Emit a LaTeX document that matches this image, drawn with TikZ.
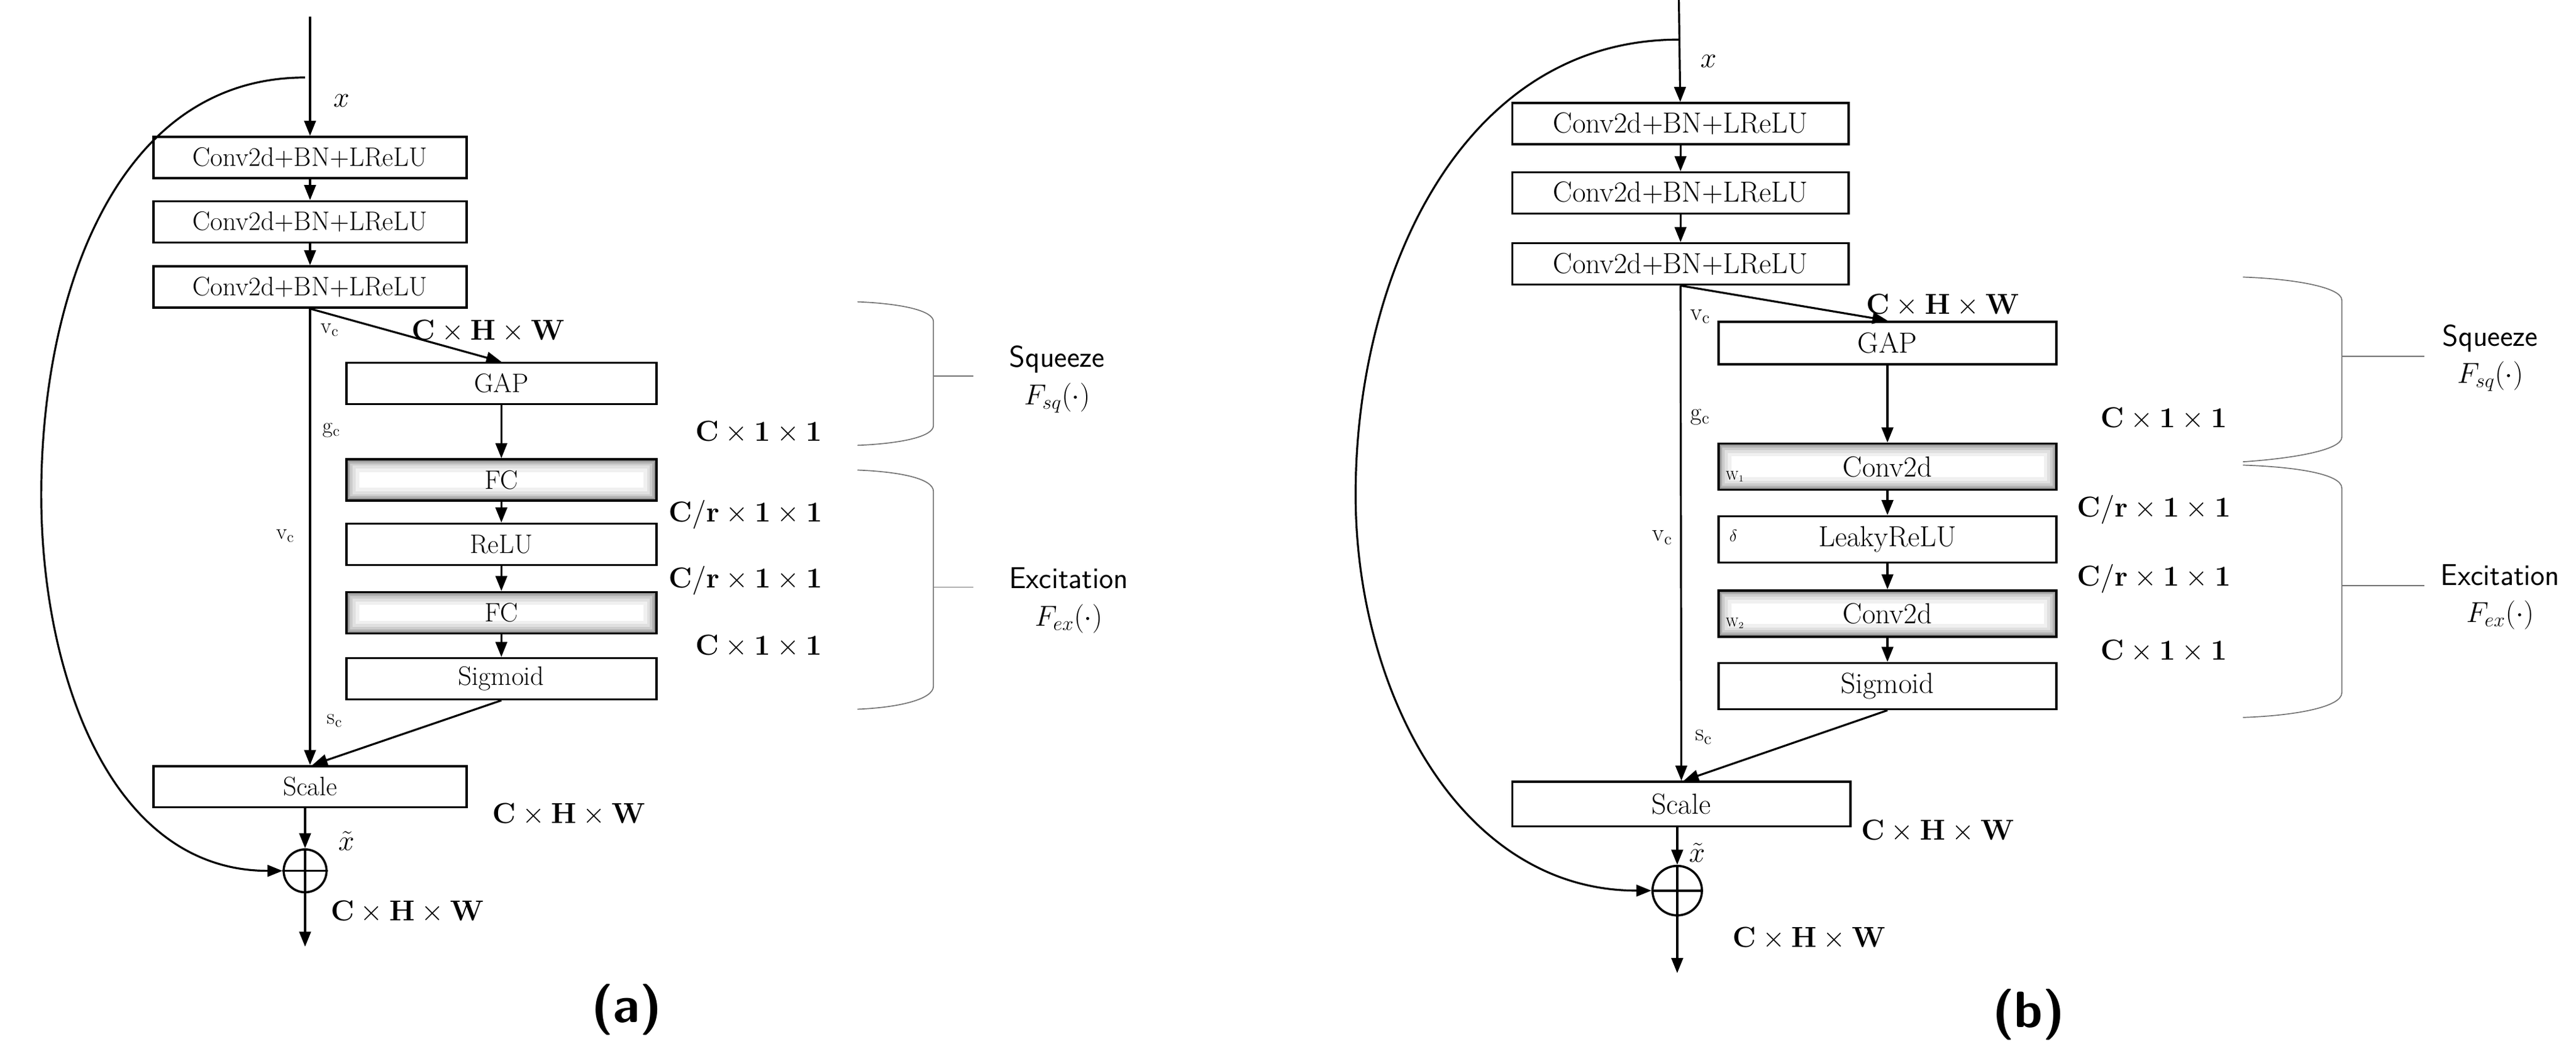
\documentclass[tikz,border=0pt]{standalone}
\usepackage{amsmath}
\usetikzlibrary{arrows.meta}
\begin{document}
\begin{tikzpicture}[x=0.05cm,y=-0.05cm,
  blk/.style={draw,line width=1.9pt,minimum height=1.25cm,inner sep=0pt,font=\fontsize{23}{25}\selectfont},
  blkb/.style={blk,font=\fontsize{25}{27}\selectfont},
  shdp/.style={path picture={\foreach \w/\c in {22/6,16/12,11/20,7/30,4/42}{\draw[line width=\w pt,black!\c] (path picture bounding box.south west) rectangle (path picture bounding box.north east);}}},
  arr/.style={line width=1.7pt,-{Triangle[length=13pt,width=10pt]}},
  dim/.style={font=\fontsize{23}{25}\selectfont},
  dimb/.style={font=\fontsize{25}{27}\selectfont},
  sm/.style={font=\fontsize{19}{21}\selectfont},
  smb/.style={font=\fontsize{21}{23}\selectfont},
  br/.style={draw=black!55,line width=0.9pt},
  lab/.style={font=\sffamily\fontsize{26}{30}\selectfont,align=center}]
\useasboundingbox (0,0) rectangle (1562,640);
% ---------- panel (a)
\coordinate (ain) at (188,10);
\node[blk,minimum width=9.5cm] (a1) at (188,95.5) {Conv2d+BN+LReLU};
\node[blk,minimum width=9.5cm] (a2) at (188,134.5) {Conv2d+BN+LReLU};
\node[blk,minimum width=9.5cm] (a3) at (188,174) {Conv2d+BN+LReLU};
\node[blk,minimum width=9.4cm] (agap) at (304,232.5) {GAP};
\node[blk,shdp,minimum width=9.4cm] (afc1) at (304,291) {FC};
\node[blk,minimum width=9.4cm] (arelu) at (304,330) {ReLU};
\node[blk,shdp,minimum width=9.4cm] (afc2) at (304,371.5) {FC};
\node[blk,minimum width=9.4cm] (asig) at (304,411.5) {Sigmoid};
\node[blk,minimum width=9.5cm] (asc) at (188,477) {Scale};
\node[circle,draw,line width=1.9pt,minimum size=1.3cm,inner sep=0pt] (aplus) at (185,528) {};
\draw[line width=1.9pt] (aplus.north)--(aplus.south) (aplus.west)--(aplus.east);
\coordinate (aout) at (185,574);
\draw[arr] (ain) -- (a1);
\draw[arr] (a1) -- (a2);
\draw[arr] (a2) -- (a3);
\draw[arr] (a3.south) -- (agap.north);
\draw[arr] (agap) -- (afc1);
\draw[arr] (afc1) -- (arelu);
\draw[arr] (arelu) -- (afc2);
\draw[arr] (afc2) -- (asig);
\draw[arr] (a3.south) -- (asc.north);
\draw[arr] (asig.south) -- ([xshift=2pt]asc.north);
\draw[arr] (asc.south -| aplus) -- (aplus.north);
\draw[arr] (aplus.south) -- (aout);
\coordinate (ask) at (185,47);
\draw[arr] (ask) to[out=180,in=90] (25,300) to[out=-90,in=180] (aplus.west);
\node at (207,61) {\fontsize{26}{28}\selectfont$x$};
\node[sm] at (200,200) {v$_\text{c}$};
\node[sm] at (201,261) {g$_\text{c}$};
\node[sm] at (173,325) {v$_\text{c}$};
\node[sm] at (203,437) {s$_\text{c}$};
\node at (210,510) {\fontsize{24}{26}\selectfont$\tilde{x}$};
\node[dim] at (296,201) {$\mathbf{C\times H\times W}$};
\node[dim] at (460,262) {$\mathbf{C\times 1\times 1}$};
\node[dim] at (452,312) {$\mathbf{C/r\times 1\times 1}$};
\node[dim] at (452,352) {$\mathbf{C/r\times 1\times 1}$};
\node[dim] at (460,392) {$\mathbf{C\times 1\times 1}$};
\node[dim] at (345,494) {$\mathbf{C\times H\times W}$};
\node[dim] at (247,553) {$\mathbf{C\times H\times W}$};
\draw[br] (520,183) .. controls (545,184) and (566,188) .. (566,195) -- (566,258) .. controls (566,265) and (545,269) .. (520,270);
\draw[br] (566,228) -- (590,228);
\draw[br] (520,285) .. controls (545,286) and (566,290) .. (566,298) -- (566,416) .. controls (566,424) and (545,429) .. (520,430);
\draw[br] (566,356) -- (590,356);
\node[lab] (asq) at (641,230) {Squeeze\\[2pt]$F_{sq}(\cdot)$};
\node[lab] (aex) at (648,364) {Excitation\\[2pt]$F_{ex}(\cdot)$};
\node at (380,612) {\fontsize{44}{46}\selectfont\sffamily\bfseries(a)};
% ---------- panel (b)
\coordinate (bin) at (1018,0);
\node[blkb,minimum width=10.2cm] (b1) at (1019,75) {Conv2d+BN+LReLU};
\node[blkb,minimum width=10.2cm] (b2) at (1019,117) {Conv2d+BN+LReLU};
\node[blkb,minimum width=10.2cm] (b3) at (1019,160) {Conv2d+BN+LReLU};
\node[blkb,minimum width=10.25cm,minimum height=1.3cm] (bgap) at (1144.5,208) {GAP};
\node[blkb,shdp,minimum width=10.25cm,minimum height=1.4cm] (bc1) at (1144.5,283) {Conv2d};
\node[blkb,minimum width=10.25cm,minimum height=1.4cm] (blr) at (1144.5,327) {LeakyReLU};
\node[blkb,shdp,minimum width=10.25cm,minimum height=1.4cm] (bc2) at (1144.5,372) {Conv2d};
\node[blkb,minimum width=10.25cm,minimum height=1.4cm] (bsig) at (1144.5,416) {Sigmoid};
\node[blkb,minimum width=10.25cm,minimum height=1.35cm] (bsc) at (1019.5,487.5) {Scale};
\node[circle,draw,line width=1.9pt,minimum size=1.5cm,inner sep=0pt] (bplus) at (1017,540) {};
\draw[line width=1.9pt] (bplus.north)--(bplus.south) (bplus.west)--(bplus.east);
\coordinate (bout) at (1017,590);
\draw[arr] (bin) -- (b1);
\draw[arr] (b1) -- (b2);
\draw[arr] (b2) -- (b3);
\draw[arr] (b3.south) -- (bgap.north);
\draw[arr] (bgap) -- (bc1);
\draw[arr] (bc1) -- (blr);
\draw[arr] (blr) -- (bc2);
\draw[arr] (bc2) -- (bsig);
\draw[arr] (b3.south) -- (bsc.north);
\draw[arr] (bsig.south) -- ([xshift=2pt]bsc.north);
\draw[arr] (bsc.south -| bplus) -- (bplus.north);
\draw[arr] (bplus.south) -- (bout);
\coordinate (bsk) at (1018,24);
\draw[arr] (bsk) to[out=180,in=90] (822,300) to[out=-90,in=180] (bplus.west);
\node at (1036,37) {\fontsize{26}{28}\selectfont$x$};
\node[smb] at (1031,192) {v$_\text{c}$};
\node[smb] at (1031,253) {g$_\text{c}$};
\node[smb] at (1008,326) {v$_\text{c}$};
\node[smb] at (1033,447) {s$_\text{c}$};
\node at (1029,517) {\fontsize{24}{26}\selectfont$\tilde{x}$};
\node[font=\fontsize{11}{12}\selectfont] at (1052,289) {W$_1$};
\node[font=\fontsize{14}{15}\selectfont] at (1051,325) {$\delta$};
\node[font=\fontsize{11}{12}\selectfont] at (1052,378) {W$_2$};
\node[dimb] at (1178,185) {$\mathbf{C\times H\times W}$};
\node[dimb] at (1312,254) {$\mathbf{C\times 1\times 1}$};
\node[dimb] at (1306,309) {$\mathbf{C/r\times 1\times 1}$};
\node[dimb] at (1306,351) {$\mathbf{C/r\times 1\times 1}$};
\node[dimb] at (1312,395) {$\mathbf{C\times 1\times 1}$};
\node[dimb] at (1175,504) {$\mathbf{C\times H\times W}$};
\node[dimb] at (1097,569) {$\mathbf{C\times H\times W}$};
\draw[br] (1360,168) .. controls (1390,169) and (1420,174) .. (1420,182) -- (1420,265) .. controls (1420,273) and (1390,278) .. (1360,280);
\draw[br] (1420,216) -- (1470,216);
\draw[br] (1360,282) .. controls (1390,283) and (1420,287) .. (1420,296) -- (1420,420) .. controls (1420,429) and (1390,434) .. (1360,435);
\draw[br] (1420,355) -- (1470,355);
\node[lab] (bsq) at (1510,217) {Squeeze\\[2pt]$F_{sq}(\cdot)$};
\node[lab] (bex) at (1516,362) {Excitation\\[2pt]$F_{ex}(\cdot)$};
\node at (1230,615) {\fontsize{44}{46}\selectfont\sffamily\bfseries(b)};
\end{tikzpicture}
\end{document}
